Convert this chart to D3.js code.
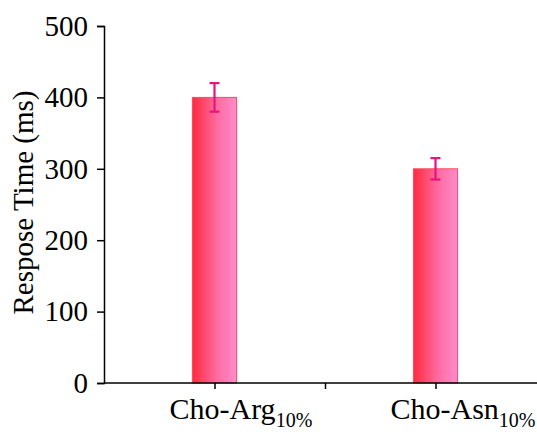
<!DOCTYPE html>
<html>
<head>
<meta charset="utf-8">
<script src="https://cdn.jsdelivr.net/npm/d3@7"></script>
<style>
    body { margin: 0; background: #fff; }
    svg text { font-family: "Liberation Serif", "Times New Roman", serif; fill: #000; }
</style>
</head>
<body>
<div id="graph"></div>
<script>
"use strict";
(function() {
    const categories = ["Cho-Arg", "Cho-Asn"];
    const subscripts = ["10%", "10%"];
    const values = [400, 300];
    const errors = [20, 15];
    const yTicks = [0, 100, 200, 300, 400, 500];
    const yLabel = "Respose Time (ms)";

    const svgSize = { width: 537, height: 432 };
    const plot = { left: 104, right: 546, top: 26, bottom: 383 };

    window.addEventListener("load", init);

    function init() {
        const svg = d3.select("#graph")
            .append("svg")
                .attr("width", svgSize.width)
                .attr("height", svgSize.height);

        const grad = svg.append("defs")
            .append("linearGradient")
                .attr("id", "barGrad")
                .attr("x1", "0%").attr("x2", "100%")
                .attr("y1", "0%").attr("y2", "0%");
        grad.append("stop").attr("offset", "0%").attr("stop-color", "#ff2a3c");
        grad.append("stop").attr("offset", "55%").attr("stop-color", "#ff6aa0");
        grad.append("stop").attr("offset", "100%").attr("stop-color", "#ff8ccc");

        // x: category positions 1, 2 on a linear axis from 0.5 to 2.5
        const xScale = d3.scaleLinear()
            .domain([0.5, 2.5])
            .range([plot.left, plot.right]);

        const yScale = d3.scaleLinear()
            .domain([0, 500])
            .range([plot.bottom, plot.top]);

        const barWidth = xScale(1.2) - xScale(1);

        svg.selectAll(".bar")
            .data(values)
            .enter()
            .append("rect")
                .attr("class", "bar")
                .attr("x", (d, i) => xScale(i + 1) - barWidth / 2)
                .attr("y", d => yScale(d))
                .attr("width", barWidth)
                .attr("height", d => yScale(0) - yScale(d))
                .attr("fill", "url(#barGrad)")
                .attr("stroke", "#ff4a5e")
                .attr("stroke-width", 1);

        // error bars
        const errG = svg.append("g")
            .attr("stroke", "#e8147e")
            .attr("stroke-width", 2.2);
        values.forEach((v, i) => {
            const cx = xScale(i + 1);
            errG.append("line")
                .attr("x1", cx).attr("x2", cx)
                .attr("y1", yScale(v + errors[i])).attr("y2", yScale(v - errors[i]));
            [v + errors[i], v - errors[i]].forEach(e => {
                errG.append("line")
                    .attr("x1", cx - 5).attr("x2", cx + 5)
                    .attr("y1", yScale(e)).attr("y2", yScale(e));
            });
        });

        // y axis
        const yAxis = svg.append("g")
            .attr("transform", "translate(" + plot.left + ",0)")
            .call(d3.axisLeft(yScale).tickValues(yTicks).tickSize(7).tickPadding(9));
        yAxis.select(".domain").attr("stroke-width", 1.5);
        yAxis.selectAll(".tick line").attr("stroke-width", 1.5);
        yAxis.selectAll("text")
            .attr("font-size", "29px")
            .attr("font-family", "Liberation Serif")
            .attr("fill", "#000");

        // x axis
        const xAxis = svg.append("g")
            .attr("transform", "translate(0," + plot.bottom + ")")
            .call(d3.axisBottom(xScale).tickValues([1, 1.5, 2]).tickSize(6).tickFormat(""));
        xAxis.select(".domain").attr("stroke-width", 1.5).attr("d", "M" + plot.left + ",0H" + plot.right);
        xAxis.selectAll(".tick line").attr("stroke-width", 1.5);

        const labels = svg.selectAll(".xlabel")
            .data(categories)
            .enter()
            .append("text")
                .attr("class", "xlabel")
                .attr("x", (d, i) => xScale(i + 1) - 45)
                .attr("y", 419)
                .attr("font-size", "30px");
        labels.append("tspan").text(d => d);
        labels.append("tspan")
            .attr("font-size", "20px")
            .attr("dy", 8)
            .text((d, i) => subscripts[i]);

        svg.append("text")
            .attr("transform", "translate(33," + ((plot.top + plot.bottom) / 2 - 2) + ") rotate(-90)")
            .attr("text-anchor", "middle")
            .attr("font-size", "29px")
            .text(yLabel);
    }
})();
</script>
</body>
</html>
